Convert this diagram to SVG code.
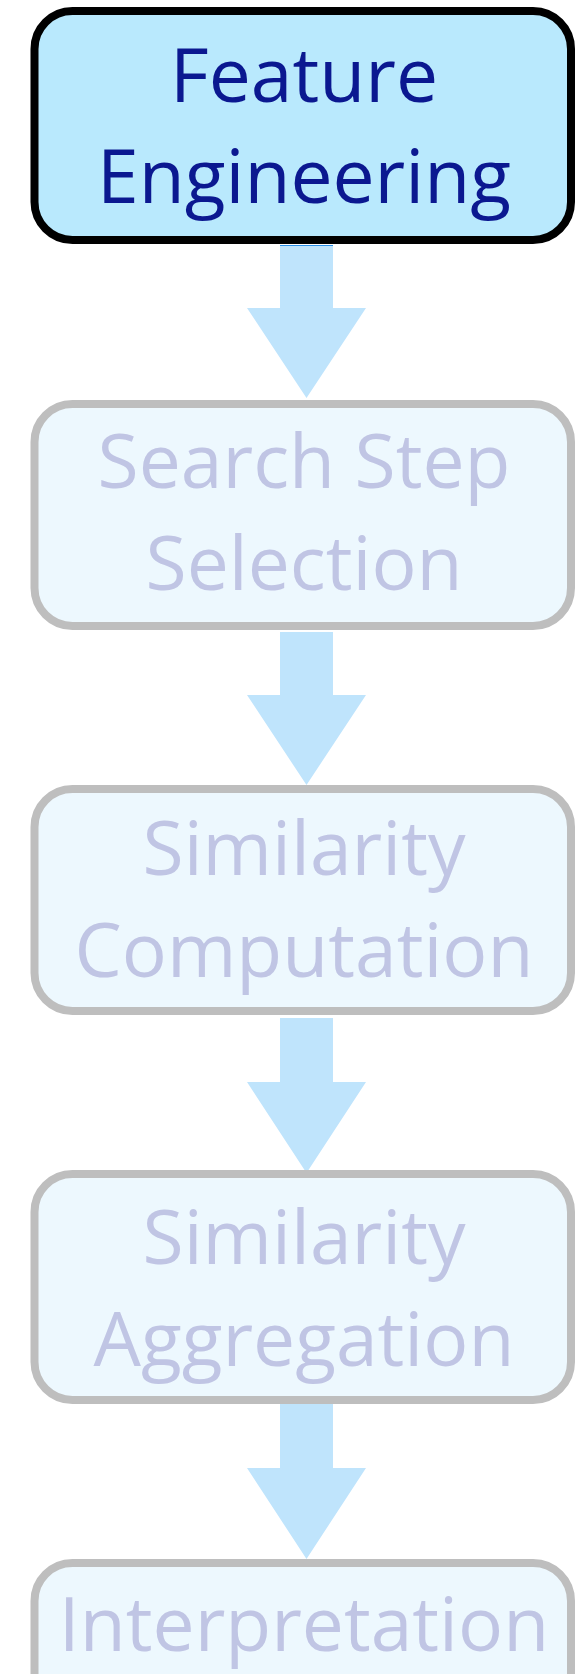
<svg xmlns="http://www.w3.org/2000/svg" width="575" height="1674" viewBox="0 0 575 1674">
<defs>
<style>
.box{fill:#edf8fe;stroke:#bebebe;stroke-width:8}
.active{fill:#b9e9fd;stroke:#000000;stroke-width:8}
.lbl{font-family:"Open Sans","Noto Sans","DejaVu Sans",sans-serif;font-size:75px;text-anchor:middle;fill:#c0c5e4}
.lblA{fill:#0b1890}
.arrow{fill:#bfe4fc}
</style>
</defs>
<rect width="575" height="1674" fill="#ffffff"/>
<g id="connectors">
<polygon class="arrow" points="280,245 333,245 333,308 366,308 306.5,398 247,308 280,308"/>
<line x1="280" y1="245.5" x2="333" y2="245.5" stroke="#2a8fe8" stroke-width="1"/>
<polygon class="arrow" points="280,632 333,632 333,695 366,695 306.5,785 247,695 280,695"/>
<polygon class="arrow" points="280,1018 333,1018 333,1082 366,1082 306.5,1173 247,1082 280,1082"/>
<polygon class="arrow" points="280,1404 333,1404 333,1468 366,1468 306.5,1559 247,1468 280,1468"/>
</g>
<g id="feature-engineering">
<rect class="active" x="34.5" y="11" width="536.5" height="229" rx="38" ry="38"/>
<text class="lbl lblA" x="304" y="102">Feature</text>
<text class="lbl lblA" x="304" y="203">Engineering</text>
</g>
<g id="search-step-selection">
<rect class="box" x="34.5" y="404" width="536.5" height="222" rx="38" ry="38"/>
<text class="lbl" x="304" y="488">Search Step</text>
<text class="lbl" x="304" y="590">Selection</text>
</g>
<g id="similarity-computation">
<rect class="box" x="34.5" y="789" width="536.5" height="222" rx="38" ry="38"/>
<text class="lbl" x="304" y="875">Similarity</text>
<text class="lbl" x="304" y="977">Computation</text>
</g>
<g id="similarity-aggregation">
<rect class="box" x="34.5" y="1174" width="536.5" height="226" rx="38" ry="38"/>
<text class="lbl" x="304" y="1264">Similarity</text>
<text class="lbl" x="304" y="1366">Aggregation</text>
</g>
<g id="interpretation">
<rect class="box" x="34.5" y="1563" width="536.5" height="226" rx="38" ry="38"/>
<text class="lbl" x="304" y="1651">Interpretation</text>
</g>
</svg>
